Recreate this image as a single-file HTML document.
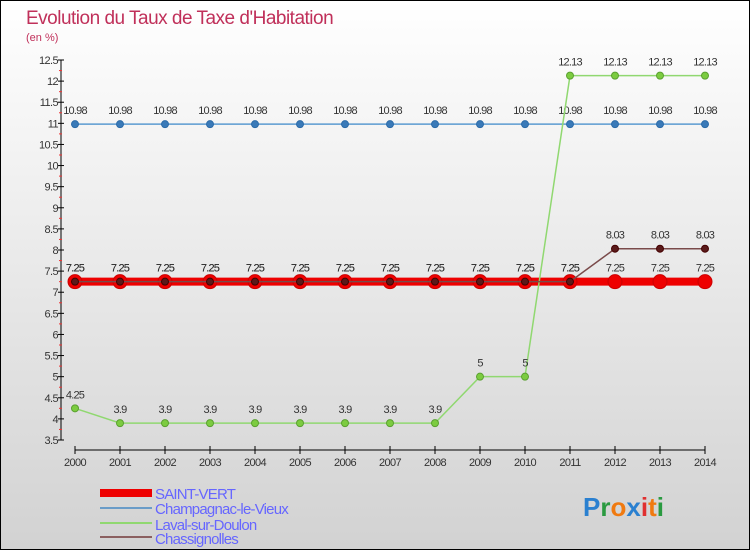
<!DOCTYPE html>
<html><head><meta charset="utf-8"><style>
body{margin:0}
svg text{font-family:"Liberation Sans",sans-serif}
</style></head><body>
<svg id="c" width="750" height="550" xmlns="http://www.w3.org/2000/svg">
<defs><linearGradient id="bg" x1="0" y1="0" x2="0" y2="1"><stop offset="0" stop-color="#ffffff"/><stop offset="1" stop-color="#d2d2d2"/></linearGradient></defs>
<rect x="0.5" y="0.5" width="749" height="549" fill="url(#bg)" stroke="#000"/>
<text x="26" y="24" font-size="19" fill="#c0305a" letter-spacing="-0.5">Evolution du Taux de Taxe d'Habitation</text>
<text x="26" y="41" font-size="11" fill="#c0305a">(en %)</text>
<g id="axes"></g><g id="series"></g>
<g>
<rect x="100" y="489" width="52" height="8" fill="#e00"/>
<text x="155" y="499" font-size="15" fill="#6666ff" letter-spacing="-0.8">SAINT-VERT</text>
<rect x="100" y="507" width="52" height="2" fill="#6a9cc8"/>
<text x="155" y="514" font-size="15" fill="#6666ff" letter-spacing="-0.8">Champagnac-le-Vieux</text>
<rect x="100" y="522" width="52" height="2" fill="#90d870"/>
<text x="155" y="530" font-size="15" fill="#6666ff" letter-spacing="-0.8">Laval-sur-Doulon</text>
<rect x="100" y="536" width="52" height="2" fill="#8b6060"/>
<text x="155" y="544" font-size="15" fill="#6666ff" letter-spacing="-0.8">Chassignolles</text>
</g>
<text x="583" y="516" font-size="26" font-weight="bold"><tspan fill="#2a80d0">P</tspan><tspan fill="#2a9a40">r</tspan><tspan fill="#f07a10">o</tspan><tspan fill="#2a80d0">x</tspan><tspan fill="#e03030">i</tspan><tspan fill="#f07a10">t</tspan><tspan fill="#2a9a40">i</tspan></text>
</svg>
<script>
const years=[2000,2001,2002,2003,2004,2005,2006,2007,2008,2009,2010,2011,2012,2013,2014];
const saintVert=[7.25,7.25,7.25,7.25,7.25,7.25,7.25,7.25,7.25,7.25,7.25,7.25,7.25,7.25,7.25];
const champagnac=[10.98,10.98,10.98,10.98,10.98,10.98,10.98,10.98,10.98,10.98,10.98,10.98,10.98,10.98,10.98];
const laval=[4.25,3.9,3.9,3.9,3.9,3.9,3.9,3.9,3.9,5,5,12.13,12.13,12.13,12.13];
const chassignolles=[7.25,7.25,7.25,7.25,7.25,7.25,7.25,7.25,7.25,7.25,7.25,7.25,8.03,8.03,8.03];
const yTicks=[3.5,4,4.5,5,5.5,6,6.5,7,7.5,8,8.5,9,9.5,10,10.5,11,11.5,12,12.5];
const NS="http://www.w3.org/2000/svg";
const X=i=>75+i*(630/(years.length-1));
const Y=v=>440-(v-3.5)*(380/9);
function mk(p,tag,a){const e=document.createElementNS(NS,tag);for(const k in a)e.setAttribute(k,a[k]);p.appendChild(e);return e;}
const ax=document.getElementById('axes');
const yl=mk(ax,'line',{x1:61,y1:Y(12.5),x2:61,y2:Y(3.5),stroke:'#000'});


yTicks.forEach((t,k)=>{
 mk(ax,'line',{x1:58,x2:64,y1:Y(t),y2:Y(t),stroke:'#000'});
 if(k<yTicks.length-1) mk(ax,'line',{x1:59,x2:62,y1:Y(t+0.25),y2:Y(t+0.25),stroke:'#e33'});
 const tx=mk(ax,'text',{x:58,y:Y(t)+4,'font-size':11,'text-anchor':'end',fill:'#333','letter-spacing':'-0.6'});
 tx.textContent=String(t);
 
 
});
const xl=mk(ax,'line',{x1:X(0),x2:X(years.length-1),y1:450,y2:450,stroke:'#000'});


years.forEach((yr,i)=>{
 mk(ax,'line',{x1:X(i),x2:X(i),y1:446,y2:454,stroke:'#000'});
 const tx=mk(ax,'text',{x:X(i),y:466,'font-size':11,'text-anchor':'middle',fill:'#333','letter-spacing':'-0.6'});
 tx.textContent=yr;
 
 
});
const sg=document.getElementById('series');
function series(name,vals,color,w,dot,dr,dotStroke){
 const g=mk(sg,'g',{});
 
 
 mk(g,'polyline',{points:vals.map((v,i)=>X(i)+','+Y(v)).join(' '),fill:'none',stroke:color,'stroke-width':w});
 vals.forEach((v,i)=>{
  const c=mk(g,'circle',{cx:X(i),cy:Y(v),r:dr,fill:dot,stroke:dotStroke,'stroke-width':1});
  
  
  const t=mk(g,'text',{x:X(i),y:Y(v)-10,'font-size':11,'text-anchor':'middle',fill:'#333','letter-spacing':'-0.8'});
  t.textContent=String(v);
  
  
 });
}
series('saint-vert-series',saintVert,'#ee0000',8,'#ee0000',7,'#c00');
series('champagnac-series',champagnac,'#5a9ad0',1.5,'#3a7ab8',3.5,'#2a6aa8');
series('laval-series',laval,'#90d870',1.5,'#7ccc40',3.5,'#5aa030');
series('chassignolles-series',chassignolles,'#7a4a4a',1.5,'#5a1a1a',3.5,'#400');
</script>
</body></html>
